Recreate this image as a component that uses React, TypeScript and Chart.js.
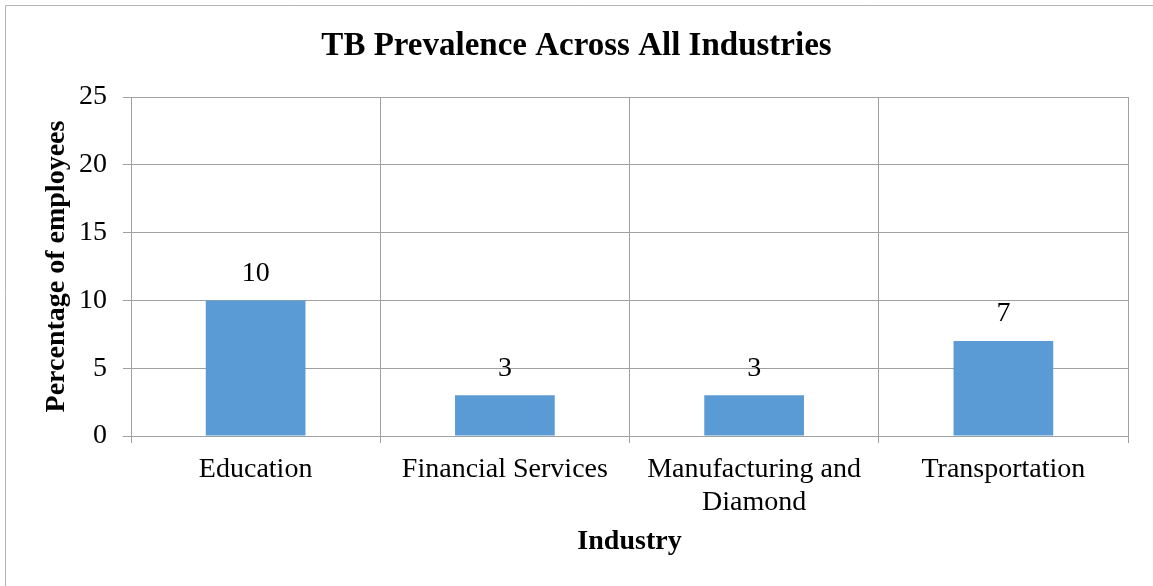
import React, { useEffect, useRef } from "react";
import { Chart, registerables } from "chart.js";

Chart.register(...registerables);

const chartTitle = "TB Prevalence Across All Industries";
const categories: (string | string[])[] = [
  "Education",
  "Financial Services",
  ["Manufacturing and", "Diamond"],
  "Transportation",
];
const prevalence = [10, 3, 3, 7];
const yTicks = [0, 5, 10, 15, 20, 25];
const xTitle = "Industry";
const yTitle = "Percentage of employees";

const FONT = '"Liberation Serif", "Times New Roman", serif';
const GRID = "#a0a0a0";

const framePlugin = {
  id: "frame",
  beforeDraw(chart: any) {
    const ctx = chart.ctx;
    ctx.save();
    ctx.strokeStyle = "#b4b4b4";
    ctx.lineWidth = 1;
    ctx.beginPath();
    ctx.moveTo(5.5, chart.height);
    ctx.lineTo(5.5, 5.5);
    ctx.lineTo(chart.width, 5.5);
    ctx.stroke();
    ctx.restore();
  },
};

const valueLabelPlugin = {
  id: "valueLabels",
  afterDatasetsDraw(chart: any) {
    const ctx = chart.ctx;
    const meta = chart.getDatasetMeta(0);
    const data = chart.data.datasets[0].data;
    ctx.save();
    ctx.font = `28px ${FONT}`;
    ctx.fillStyle = "#000";
    ctx.textAlign = "center";
    ctx.textBaseline = "middle";
    meta.data.forEach((bar: any, i: number) => {
      ctx.fillText(String(data[i]), bar.x, bar.y - 27);
    });
    ctx.restore();
  },
};

export default function App() {
  const canvasRef = useRef<HTMLCanvasElement | null>(null);

  useEffect(() => {
    if (!canvasRef.current) return;
    const chart = new Chart(canvasRef.current, {
      type: "bar",
      data: {
        labels: categories,
        datasets: [
          {
            data: prevalence,
            backgroundColor: "#5b9bd5",
            borderWidth: 0,
            barPercentage: 0.4,
            categoryPercentage: 1,
          },
        ],
      },
      options: {
        animation: false,
        responsive: false,
        maintainAspectRatio: false,
        layout: { padding: { left: 25, right: 25, top: 0, bottom: 0 } },
        plugins: {
          legend: { display: false },
          tooltip: { enabled: false },
          title: {
            display: true,
            text: chartTitle,
            color: "#000",
            font: { family: FONT, size: 33, weight: "bold", lineHeight: 1.2 },
            padding: { top: 26.5, bottom: 30.9 },
          },
        },
        scales: {
          x: {
            grid: {
              color: GRID,
              lineWidth: 1,
              offset: true,
              drawTicks: true,
              tickLength: 7,
            },
            border: { color: GRID, width: 1 },
            ticks: {
              color: "#000",
              font: { family: FONT, size: 28, lineHeight: 1.15 },
              padding: 11,
              maxRotation: 0,
              autoSkip: false,
            },
            title: {
              display: true,
              text: xTitle,
              color: "#000",
              font: { family: FONT, size: 28, weight: "bold", lineHeight: 1.15 },
              padding: { top: 0, bottom: 28 },
            },
            afterFit(scale: any) {
              scale.height = 150;
            },
          },
          y: {
            min: yTicks[0],
            max: yTicks[yTicks.length - 1],
            grid: {
              color: GRID,
              lineWidth: 1,
              drawTicks: true,
              tickLength: 8,
            },
            border: { color: GRID, width: 1 },
            ticks: {
              stepSize: yTicks[1] - yTicks[0],
              color: "#000",
              font: { family: FONT, size: 28, lineHeight: 1.15 },
              padding: 16,
            },
            title: {
              display: true,
              text: yTitle,
              color: "#000",
              font: { family: FONT, size: 28, weight: "bold", lineHeight: 1.15 },
              padding: { top: 16, bottom: 0 },
            },
            afterFit(scale: any) {
              scale.width = 106;
            },
          },
        },
      },
      plugins: [framePlugin, valueLabelPlugin],
    });
    return () => chart.destroy();
  }, []);

  return (
    <div
      style={{
        position: "fixed",
        left: 0,
        top: 0,
        width: 1153,
        height: 586,
        background: "#fff",
      }}
    >
      <canvas ref={canvasRef} width={1153} height={586} style={{ display: "block" }} />
    </div>
  );
}
